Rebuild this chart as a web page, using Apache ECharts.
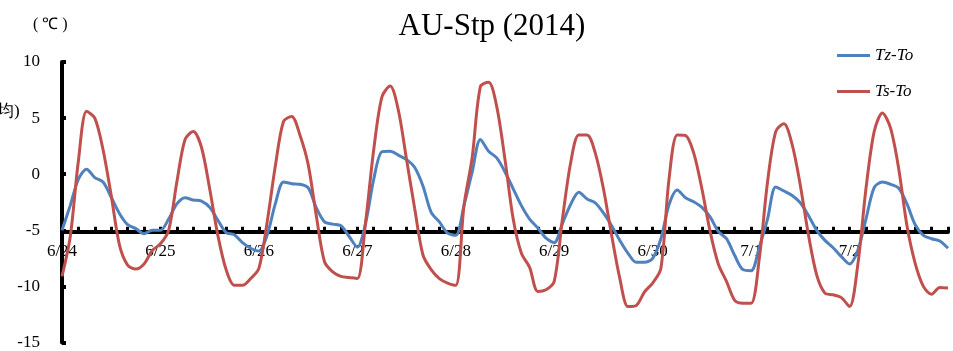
<!DOCTYPE html>
<html>
<head>
<meta charset="utf-8">
<script src="https://cdn.jsdelivr.net/npm/echarts@6/dist/echarts.min.js"></script>
<style>html,body{margin:0;padding:0;background:#fff}#c{width:953px;height:351px}</style>
</head>
<body>
<div id="c"></div>
<script>
// day labels; readings every 2 hours from 6/24 00:00 to 7/3 00:00
const days = ['6/24','6/25','6/26','6/27','6/28','6/29','6/30','7/1','7/2','7/3'];
const stepHours = 2;
const yTicks = [-15, -10, -5, 0, 5, 10];
const seriesNames = ['Tz-To', 'Ts-To'];

const tzTo = [
  -5.0,-2.8,-0.45,0.45,-0.3,-0.7,-2.05,-3.5,-4.5,-4.85,-5.3,-5.0,
  -5.0,-4.0,-2.65,-2.1,-2.3,-2.4,-2.95,-4.1,-5.2,-5.4,-6.1,-6.6,
  -6.85,-5.45,-2.65,-0.7,-0.85,-0.9,-1.2,-3.0,-4.25,-4.45,-4.6,-5.55,
  -6.5,-4.4,-0.45,2.0,2.05,1.7,1.3,0.6,-1.05,-3.4,-4.25,-5.25,
  -5.45,-2.8,0.2,3.1,2.05,1.45,0.2,-1.3,-2.8,-4.0,-4.8,-5.7,
  -6.1,-4.4,-2.7,-1.6,-2.2,-2.55,-3.45,-4.6,-5.9,-7.05,-7.85,-7.85,
  -7.5,-5.75,-2.7,-1.4,-2.1,-2.45,-2.95,-3.8,-5.1,-5.75,-7.25,-8.5,
  -8.6,-6.5,-4.0,-1.15,-1.5,-1.9,-2.55,-3.7,-5.0,-5.9,-6.55,-7.35,
  -8.0,-6.8,-4.0,-1.2,-0.7,-0.9,-1.25,-2.65,-4.5,-5.45,-5.75,-5.95,
  -6.6
];
const tsTo = [
  -9.1,-5.6,1.2,5.6,5.0,2.2,-1.9,-6.3,-8.1,-8.45,-8.0,-6.8,
  -6.2,-5.0,-0.7,3.1,3.8,2.4,-1.3,-5.45,-8.5,-9.9,-9.9,-9.3,
  -8.4,-4.3,0.7,4.7,5.15,3.5,0.9,-3.7,-7.8,-8.7,-9.1,-9.2,
  -9.3,-4.3,2.2,6.9,7.85,5.7,1.3,-3.1,-7.2,-8.5,-9.3,-9.7,
  -9.9,-2.8,1.5,7.8,8.2,6.0,1.3,-4.0,-7.05,-8.3,-10.45,-10.3,
  -9.55,-4.0,1.0,3.5,3.5,1.9,-1.3,-5.45,-9.3,-11.8,-11.7,-10.5,
  -9.7,-8.4,-0.4,3.5,3.45,1.9,-1.3,-5.1,-8.0,-9.55,-11.25,-11.5,
  -11.5,-7.5,-0.7,3.8,4.5,2.65,-1.0,-5.45,-9.0,-10.6,-10.75,-11.0,
  -11.8,-8.1,-1.3,3.8,5.45,4.1,0.45,-4.6,-7.95,-10.0,-10.7,-10.1,
  -10.15
];

const perDay = 24 / stepHours;
const categories = [];
for (let d = 0; d < days.length; d++) {
  for (let k = 0; k < perDay; k++) {
    if (d === days.length - 1 && k > 0) break;
    categories.push(days[d] + ' ' + String(k * stepHours).padStart(2, '0') + ':00');
  }
}

const serif = '"Liberation Serif","Times New Roman",serif';
const chart = echarts.init(document.getElementById('c'), null, {renderer: 'canvas'});
const gridL = 62, gridR = 5, gridT = 62, gridB = 6;
const yMin = yTicks[0], yMax = yTicks[yTicks.length - 1];
const plotH = 351 - gridT - gridB;
const crossY = gridT + (yMax - (-5)) / (yMax - yMin) * plotH;

chart.setOption({
  animation: false,
  backgroundColor: '#fff',
  title: {
    text: 'AU-Stp (2014)',
    left: 487, top: 6, textAlign: 'center',
    textStyle: {fontFamily: serif, fontSize: 31, fontWeight: 'normal', color: '#000'}
  },
  legend: {
    data: seriesNames.map(function (n) { return {name: n, icon: 'rect'}; }),
    orient: 'vertical',
    left: 832, top: 42,
    itemWidth: 33, itemHeight: 3, itemGap: 19,
    textStyle: {fontFamily: serif, fontSize: 17, fontStyle: 'italic', color: '#000'}
  },
  graphic: [
    {type: 'text', left: 33, top: 17, style: {text: '( ℃ )', font: '16px ' + serif, fill: '#000'}},
    {type: 'text', left: -3, top: 103, style: {text: '均)', font: '17px ' + serif, fill: '#000'}}
  ],
  grid: [
    {left: gridL, right: gridR, top: gridT, bottom: gridB},
    {left: gridL, right: gridR, top: gridT, bottom: 351 - crossY}
  ],
  xAxis: [
    {type: 'category', gridIndex: 0, data: categories, boundaryGap: false, show: false},
    {
      type: 'category', gridIndex: 1, data: categories, boundaryGap: false, position: 'bottom',
      axisLine: {show: true, onZero: false, lineStyle: {color: '#000', width: 4}},
      axisTick: {show: true, inside: true, length: 5, interval: 1, lineStyle: {color: '#000', width: 3}},
      axisLabel: {
        interval: function (i) { return i % perDay === 0 && i < categories.length - 1; },
        formatter: function (v) { return v.split(' ')[0]; },
        margin: 11, fontFamily: serif, fontSize: 17, color: '#000'
      },
      splitLine: {show: false}
    }
  ],
  yAxis: [
    {
      type: 'value', gridIndex: 0, min: yMin, max: yMax, interval: 5,
      axisLine: {show: true, lineStyle: {color: '#000', width: 4}},
      axisTick: {show: true, inside: true, length: 4, lineStyle: {color: '#000', width: 4}},
      axisLabel: {margin: 22, fontFamily: serif, fontSize: 17, color: '#000'},
      splitLine: {show: false}
    },
    {type: 'value', gridIndex: 1, show: false, min: 0, max: 1}
  ],
  series: [
    {
      name: seriesNames[0], type: 'line', data: tzTo, xAxisIndex: 0, yAxisIndex: 0,
      symbol: 'none', smooth: 0.3, lineStyle: {color: '#4F81BD', width: 3}, itemStyle: {color: '#4F81BD'}, z: 3
    },
    {
      name: seriesNames[1], type: 'line', data: tsTo, xAxisIndex: 0, yAxisIndex: 0,
      symbol: 'none', smooth: 0.3, lineStyle: {color: '#C0504D', width: 3}, itemStyle: {color: '#C0504D'}, z: 4
    }
  ]
});
</script>
</body>
</html>
